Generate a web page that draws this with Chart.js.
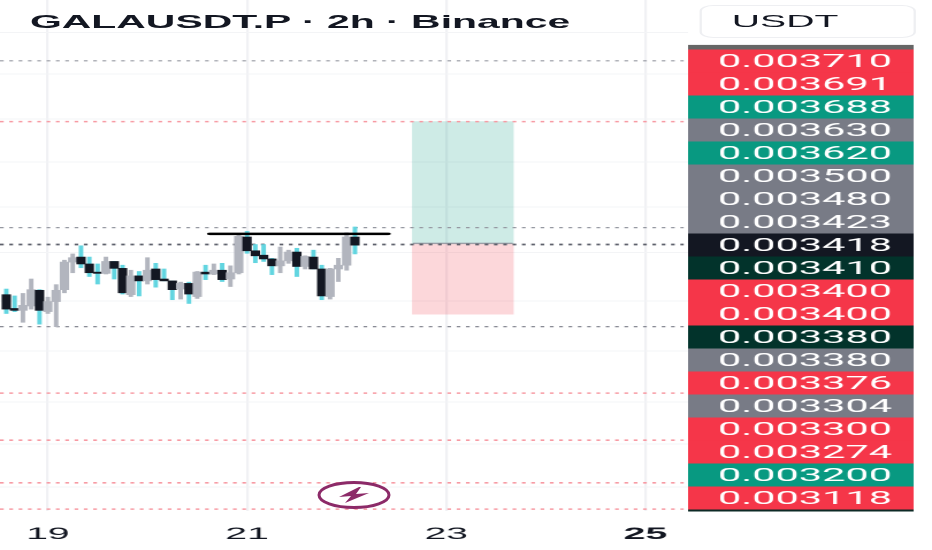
<!DOCTYPE html>
<html>
<head>
<meta charset="utf-8">
<script src="https://cdn.jsdelivr.net/npm/chart.js@4"></script>
<style>
html,body{margin:0;padding:0;background:#fff;overflow:hidden;width:932px;height:550px;}
/* the whole picture is a horizontally stretched screenshot */
#wrap{position:absolute;left:0;top:0;width:405px;height:550px;transform:scaleX(2.3012);transform-origin:0 0;}
#title{position:absolute;left:13px;top:11.5px;font:bold 17.8px "Liberation Sans",sans-serif;color:#131722;white-space:nowrap;}
#unit{position:absolute;left:303.5px;top:5px;width:94px;height:33px;box-sizing:border-box;border:1px solid #eeeff2;border-radius:6px;font:17px "Liberation Sans",sans-serif;color:#131722;line-height:32px;padding-left:13.5px;}
#bolt{position:absolute;left:312px;top:478px;}
</style>
</head>
<body>
<div id="wrap">
  <canvas id="chart" width="405" height="550"></canvas>
  <div id="title">GALAUSDT.P · 2h · Binance</div>
  <div id="unit">USDT</div>
</div>
<svg id="bolt" width="84" height="34" viewBox="0 0 84 34">
  <ellipse cx="42" cy="17" rx="35" ry="12.5" fill="#fff" stroke="#8c2a68" stroke-width="3"/>
  <polygon points="47,9 27,19 39,18 33,25 57,15 44,16 49,9" fill="#8c2a68"/>
</svg>
<script>
// prices in millionths of USDT
const wickHigh = [3346,3335,3339,3362,3345,3333,3353,3392,3402,3415,3397,3386,3397,3390,3384,3376,3374,3396,3387,3378,3359,3357,3357,3374,3384,3386,3387,3383,3432,3438,3417,3417,3395,3413,3408,3411,3399,3408,3384,3379,3395,3436,3445];
const bodyHigh = [3337,3315,3320,3345,3344,3326,3344,3389,3396,3397,3386,3373,3390,3390,3379,3367,3367,3376,3378,3362,3359,3355,3355,3373,3373,3376,3376,3372,3430,3429,3407,3400,3394,3391,3405,3405,3398,3397,3378,3378,3384,3429,3429];
const bodyLow  = [3314,3312,3312,3319,3312,3310,3326,3345,3389,3386,3372,3371,3371,3379,3340,3337,3359,3359,3361,3359,3345,3346,3338,3334,3370,3370,3361,3362,3372,3407,3399,3394,3383,3383,3391,3382,3382,3378,3335,3334,3378,3384,3416];
const wickLow  = [3307,3310,3293,3314,3290,3307,3286,3340,3372,3380,3366,3354,3370,3362,3338,3334,3335,3354,3349,3359,3329,3330,3323,3331,3361,3369,3358,3350,3370,3403,3388,3390,3369,3372,3387,3366,3378,3378,3329,3330,3358,3376,3402];
const darkCandle = [1,1,0,0,1,0,0,0,0,1,1,1,0,1,1,0,1,0,1,1,1,0,1,0,1,0,1,0,0,1,1,1,1,0,0,1,0,1,1,0,0,0,1];

const gridPrices = [3755,3689,3617,3549,3477,3404,3327,3247,3166,3099,3030];
const greyLevels = [3710,3444,3417,3286];
const redLevels = [3613,3180,3105,3037,2995];
const levelColors = {3710:'#9598a1',3444:'#9598a1',3417:'#5d606b',3286:'#787b86'};

const dayTicks = [5,29,53,77];
const dayLabels = ['19','21','23','25'];

const tagLabels = ['0.003710','0.003691','0.003688','0.003630','0.003620','0.003500','0.003480','0.003423','0.003418','0.003410','0.003400','0.003400','0.003380','0.003380','0.003376','0.003304','0.003300','0.003274','0.003200','0.003118'];
const tagColors = ['#f53649','#f53649','#089981','#787b86','#089981','#787b86','#787b86','#787b86','#131722','#02332b','#f53649','#f53649','#02332b','#787b86','#f53649','#787b86','#f53649','#f53649','#089981','#f53649'];

const entry = 3418, target = 3613, stop = 3306, keyLevel = 3434;

const tagBackground = {
    id:'tagBackground',
    beforeDraw(c){
        const s = c.scales.y2, ctx = c.ctx;
        ctx.save();
        ctx.fillStyle = '#666';
        ctx.fillRect(s.left, s.getPixelForValue(-0.7), s.width, s.getPixelForValue(-0.5)-s.getPixelForValue(-0.7));
        tagColors.forEach((col,i)=>{
            ctx.fillStyle = col;
            ctx.fillRect(s.left, s.getPixelForValue(i-0.5), s.width, s.getPixelForValue(i+0.5)-s.getPixelForValue(i-0.5)+0.3);
        });
        ctx.fillStyle = '#0d2a26';
        ctx.fillRect(s.left, s.getPixelForValue(19.5), s.width, 2);
        ctx.restore();
    }
};

const noPadding = s => { s.paddingLeft = s.paddingRight = s.paddingTop = s.paddingBottom = 0; };

const idx = wickHigh.map((_,i)=>i);
const level = (price,color,width,dash,from,to)=>({
    type:'line', data:[{x:from,y:price},{x:to,y:price}], borderColor:color, borderWidth:width,
    borderDash:dash, pointRadius:0, order:2
});

const datasets = [
    {type:'bar', data:[{x:55,y:[entry,target]}], backgroundColor:'rgba(8,153,129,0.2)', barThickness:43.5, grouped:false, order:4},
    {type:'bar', data:[{x:55,y:[stop,entry]}], backgroundColor:'rgba(242,54,69,0.2)', barThickness:43.5, grouped:false, order:4},
    ...greyLevels.map(p=>level(p,levelColors[p],p===3417?1.8:1.2,[1.6,2.45],-0.76,81.6)),
    ...redLevels.map(p=>level(p,'#f79aa3',1.6,[1.6,2.45],-0.76,81.6)),
    level(entry+1,'#8b8e99',1,[],49,61),
    {type:'bar', data:idx.map(i=>({x:i,y:[wickLow[i],wickHigh[i]]})),
     backgroundColor:darkCandle.map(d=>d?'#62d5e0':'#b2b5be'), barThickness:1.3, grouped:false, order:1},
    {type:'bar', data:idx.map(i=>({x:i,y:[bodyLow[i],bodyHigh[i]]})),
     backgroundColor:darkCandle.map(d=>d?'#131722':'#b2b5be'), barThickness:3.4, grouped:false, order:0},
    {type:'line', data:[{x:24.5,y:keyLevel},{x:46,y:keyLevel}], borderColor:'#000', borderWidth:2.4, borderCapStyle:'round', pointRadius:0, order:-1}
];

new Chart(document.getElementById('chart'),{
    data:{datasets},
    plugins:[tagBackground],
    options:{
        responsive:false, animation:false, devicePixelRatio:2,
        layout:{padding:{left:0,right:8,top:0,bottom:0}},
        plugins:{legend:{display:false},tooltip:{enabled:false}},
        scales:{
            x:{
                type:'linear', offset:false, min:-0.76, max:82.13,
                afterBuildTicks(s){ s.ticks = dayTicks.map(v=>({value:v})); },
                afterFit(s){ s.height = 39; noPadding(s); },
                grid:{offset:false, color:'#f0f1f4', lineWidth:1.1, drawTicks:false},
                border:{display:false},
                ticks:{padding:13, maxRotation:0, autoSkip:false, color:'#131722',
                    font:c=>({family:'Liberation Sans',size:17,weight:c.tick && c.tick.value===77?'bold':'normal'}),
                    callback:v=>dayLabels[dayTicks.indexOf(v)]}
            },
            y:{
                type:'linear', position:'left', min:2992, max:3807,
                afterBuildTicks(s){ s.ticks = gridPrices.map(v=>({value:v})); },
                afterFit(s){ s.width = 0; noPadding(s); },
                grid:{color:'#f3f4f6', lineWidth:1, drawTicks:false},
                border:{display:false},
                ticks:{display:false}
            },
            y2:{
                type:'linear', position:'right', reverse:true, min:-2.652, max:19.565,
                afterBuildTicks(s){ s.ticks = tagLabels.map((_,i)=>({value:i+0.06})); },
                afterFit(s){ s.width = 98; noPadding(s); },
                grid:{display:false, drawOnChartArea:false, drawTicks:false},
                border:{display:false},
                ticks:{padding:13, crossAlign:'near', autoSkip:false, color:'#fff', font:{family:'Roboto',size:18},
                    callback:v=>tagLabels[Math.round(v)]}
            }
        }
    }
});
</script>
</body>
</html>
